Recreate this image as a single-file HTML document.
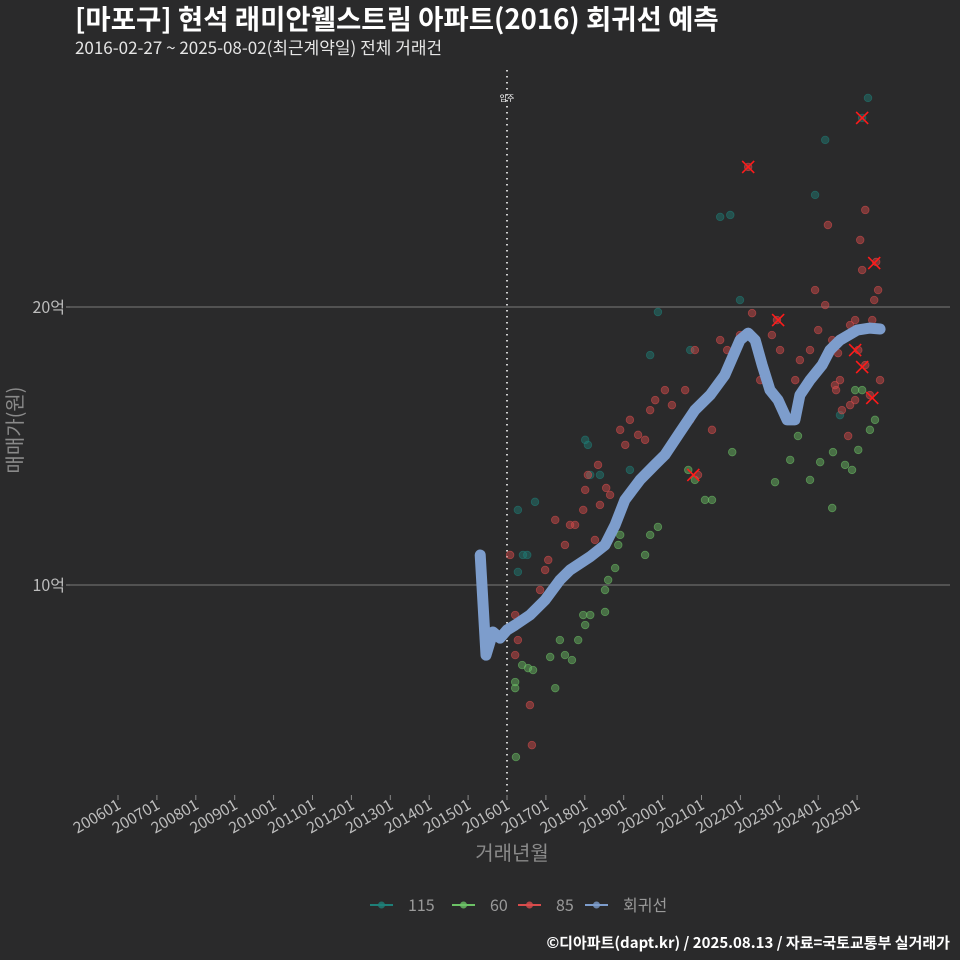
<!DOCTYPE html>
<html><head><meta charset="utf-8"><style>
html,body{margin:0;padding:0;background:#2a2a2b;}
svg{display:block;font-family:"Noto Sans CJK KR","Liberation Sans",sans-serif;}
</style></head><body>
<svg id="chart" width="960" height="960" viewBox="0 0 960 960" xmlns="http://www.w3.org/2000/svg">
<rect width="960" height="960" fill="#2a2a2b"/>
<text x="75" y="29" fill="#ffffff" font-size="27.5" font-weight="bold">[마포구] 현석 래미안웰스트림 아파트(2016) 회귀선 예측</text>
<text x="75" y="54" fill="#e6e6e6" font-size="17">2016-02-27 ~ 2025-08-02(최근계약일) 전체 거래건</text>
<g id="grid"></g>
<g id="xaxis"></g>
<g id="points"></g>
<g id="line"></g>
<g id="xmarks"></g>
<text x="0" y="0" transform="translate(22,430) rotate(-90)" text-anchor="middle" fill="#8a8a8a" font-size="20">매매가(원)</text>
<text x="512" y="860" text-anchor="middle" fill="#8a8a8a" font-size="20">거래년월</text>
<g id="legend"></g>
<text x="950" y="948" text-anchor="end" fill="#ffffff" font-size="15" font-weight="bold">©디아파트(dapt.kr) / 2025.08.13 / 자료=국토교통부 실거래가</text>
</svg>
<script>
const yTicks=[10,20];
const yTickLabels=["10억","20억"];
const xTickLabels=["200601","200701","200801","200901","201001","201101","201201","201301","201401","201501","201601","201701","201801","201901","202001","202101","202201","202301","202401","202501"];
const regT=[2015.31,2015.46,2015.64,2015.82,2016.0,2016.21,2016.59,2016.98,2017.36,2017.62,2018.13,2018.52,2018.78,2019.03,2019.42,2019.80,2020.06,2020.45,2020.83,2021.22,2021.60,2021.99,2022.20,2022.38,2022.56,2022.76,2022.97,2023.20,2023.40,2023.53,2023.79,2024.10,2024.30,2024.56,2025.00,2025.33,2025.59];
const regV=[11.08,7.48,8.31,8.09,8.38,8.56,8.92,9.46,10.18,10.54,11.01,11.44,12.16,13.06,13.78,14.32,14.68,15.50,16.29,16.83,17.55,18.81,19.06,18.81,17.91,17.01,16.65,15.94,15.94,16.83,17.37,17.91,18.45,18.81,19.17,19.24,19.21];
const redT=[2016.08,2016.21,2016.28,2016.21,2016.59,2016.64,2016.85,2016.98,2017.06,2017.24,2017.49,2017.62,2017.75,2017.96,2018.01,2018.08,2018.26,2018.34,2018.39,2018.55,2018.65,2018.91,2019.04,2019.16,2019.37,2019.55,2019.68,2019.81,2020.06,2020.24,2020.58,2020.71,2020.83,2020.91,2021.27,2021.48,2021.66,2021.99,2022.20,2022.30,2022.51,2022.81,2022.94,2023.02,2023.41,2023.53,2023.79,2024.00,2024.18,2024.36,2024.43,2024.56,2024.82,2024.82,2024.95,2025.08,2025.13,2025.21,2025.33,2025.39,2025.44,2025.49,2025.54,2025.59,2025.21,2025.03,2024.25,2023.92,2024.61,2024.77,2024.95,2024.46,2024.51];
const redV=[11.08,8.92,8.02,7.48,5.68,4.24,9.82,10.54,10.90,12.34,11.44,12.16,12.16,12.70,13.42,13.96,11.62,14.32,12.88,13.49,13.24,15.58,15.04,15.94,15.40,15.22,16.29,16.65,17.01,16.47,17.01,15.94,18.45,13.96,15.58,18.81,18.45,18.99,25.04,19.78,17.37,18.99,19.53,18.45,17.37,18.09,18.45,19.17,20.07,18.81,17.19,17.37,19.35,16.47,19.53,22.41,21.33,23.49,16.83,19.53,20.25,21.62,20.61,17.37,17.91,18.45,22.95,20.61,16.29,15.36,16.65,17.01,18.34];
const greenT=[2016.21,2016.21,2016.23,2016.39,2016.54,2016.67,2017.11,2017.24,2017.36,2017.49,2017.67,2017.83,2017.96,2018.01,2018.14,2018.52,2018.52,2018.60,2018.78,2018.86,2018.91,2019.55,2019.68,2019.88,2020.66,2020.83,2021.09,2021.27,2021.79,2022.89,2023.28,2023.48,2023.79,2024.05,2024.36,2024.38,2024.69,2024.87,2025.03,2025.33,2025.46,2024.95,2025.13];
const greenV=[6.29,6.51,3.81,7.12,7.01,6.94,7.41,6.29,8.02,7.48,7.30,8.02,8.92,8.56,8.92,9.82,9.03,10.18,10.61,11.44,11.80,11.08,11.80,12.09,14.14,13.78,13.06,13.06,14.78,13.70,14.50,15.36,13.78,14.42,12.77,14.78,14.32,14.14,14.86,15.58,15.94,17.01,17.01];
const tealT=[2016.28,2016.41,2016.52,2016.28,2016.72,2018.01,2018.08,2018.14,2018.39,2019.16,2019.88,2019.68,2020.71,2021.48,2021.74,2021.99,2024.18,2023.92,2024.56,2025.28,2025.13];
const tealV=[12.70,11.08,11.08,10.47,12.99,15.22,15.04,13.96,13.96,14.14,19.82,18.27,18.45,23.24,23.31,20.25,26.01,24.03,16.11,27.52,26.80];
const cancelT=[2020.79,2022.20,2022.97,2025.13,2025.44,2024.95,2025.13,2025.39];
const cancelV=[13.96,25.04,19.53,26.80,21.58,18.45,17.84,16.73];

const NS="http://www.w3.org/2000/svg";
const PX0=70,PX1=950,PY0=62,PY1=795;
function xs(t){return 118+(t-2006)*38.9;}
function ys(v){return 863-v*27.8;}
function mk(tag,attrs,parent){const e=document.createElementNS(NS,tag);for(const k in attrs)e.setAttribute(k,attrs[k]);parent.appendChild(e);return e;}

const grid=document.getElementById('grid');
yTicks.forEach((v,i)=>{
  const l=mk('line',{x1:PX0,x2:PX1,y1:ys(v),y2:ys(v),stroke:'#6a6a6a','stroke-width':1.2},grid);
  
  
  const tk=mk('line',{x1:PX0-4,x2:PX0,y1:ys(v),y2:ys(v),stroke:'#8a8a8a'},grid);
  
  
  const t=mk('text',{x:PX0-5,y:ys(v)+6,'text-anchor':'end',fill:'#bdbdbd','font-size':16},grid);
  t.textContent=yTickLabels[i];
  
  
});
const vl=mk('line',{x1:xs(2016),x2:xs(2016),y1:70,y2:PY1,stroke:'#cfcfcf','stroke-width':2,'stroke-dasharray':'1.5,4.5'},grid);


const vt=mk('text',{x:xs(2016),y:101,'text-anchor':'middle',fill:'#ffffff','font-size':8},grid);
vt.textContent='입주';



const xa=document.getElementById('xaxis');
xTickLabels.forEach((lab,i)=>{
  const x=xs(2006+i);
  const tk=mk('line',{x1:x,x2:x,y1:PY1,y2:PY1+5,stroke:'#8a8a8a'},xa);
  
  
  const t=mk('text',{x:0,y:0,'text-anchor':'end',fill:'#bdbdbd','font-size':15.5,transform:`translate(${x+4},${PY1+13}) rotate(-30)`},xa);
  t.textContent=lab;
  
  
});

const pts=document.getElementById('points');
function drawPts(T,V,col,name){
  T.forEach((t,i)=>{
    const c=mk('circle',{cx:xs(t),cy:ys(V[i]),r:3.8,fill:col,'fill-opacity':0.45,stroke:col,'stroke-opacity':0.6,'stroke-width':0.8},pts);
    
    
  });
}
drawPts(tealT,tealV,'#1e7f78','point-115');
drawPts(greenT,greenV,'#6cc266','point-60');
drawPts(redT,redV,'#d94c4c','point-85');

const lg=document.getElementById('line');
const d=regT.map((t,i)=>(i?'L':'M')+xs(t).toFixed(1)+','+ys(regV[i]).toFixed(1)).join(' ');
const path=mk('path',{d:d,fill:'none',stroke:'#7d9dcc','stroke-width':11,'stroke-linecap':'round','stroke-linejoin':'round'},lg);



const xm=document.getElementById('xmarks');
cancelT.forEach((t,i)=>{
  const x=xs(t),y=ys(cancelV[i]);
  const p=mk('path',{d:`M${x-6},${y-6}L${x+6},${y+6}M${x-6},${y+6}L${x+6},${y-6}`,stroke:'#ff1a1a','stroke-width':1.6},xm);
  
  
});

const leg=document.getElementById('legend');
const legItems=[['115','#1e7f78',370],['60','#6cc266',452],['85','#d94c4c',518],['회귀선','#7d9dcc',585]];
legItems.forEach(([lab,col,x])=>{
  const g=mk('g',{},leg);
  
  
  mk('line',{x1:x,x2:x+23,y1:905,y2:905,stroke:col,'stroke-width':2},g);
  mk('circle',{cx:x+11.5,cy:905,r:3.5,fill:col,'fill-opacity':0.8},g);
  const t=mk('text',{x:x+38,y:911,fill:'#9a9a9a','font-size':16},g);
  t.textContent=lab;
});
</script>
</body></html>
